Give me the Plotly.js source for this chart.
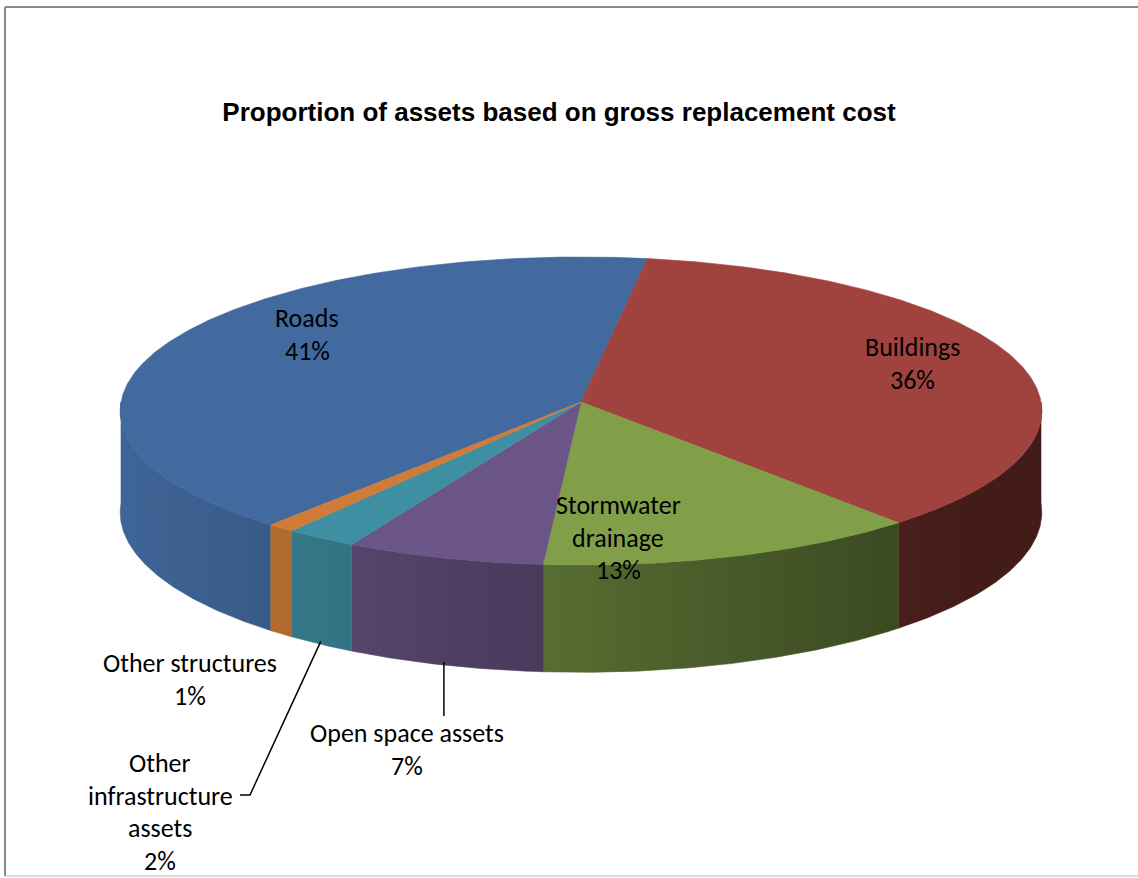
<!DOCTYPE html>
<html>
<head>
<meta charset="utf-8">
<script src="https://cdn.plot.ly/plotly-3.0.1.min.js"></script>
<style>html,body{margin:0;padding:0;background:#fff;}#chart{width:1138px;height:878px;}</style>
</head>
<body>
<div id="chart"></div>
<script>
// ---- data ----
const categories = ['Roads', 'Buildings', 'Stormwater drainage', 'Open space assets', 'Other infrastructure assets', 'Other structures'];
const labelLines = [['Roads'], ['Buildings'], ['Stormwater', 'drainage'], ['Open space assets'], ['Other', 'infrastructure', 'assets'], ['Other structures']];
const values = [41.3, 36.1, 12.7, 6.6, 2.4, 0.9];
const topColors = ['#426A9E', '#A0433F', '#809F48', '#6B5586', '#3F8FA3', '#D07C38'];
const titleText = 'Proportion of assets based on gross replacement cost';

// ---- layout geometry (pixels) ----
const W = 1138, H = 878;
const cx = 581, cy = 402, rx = 460, ry = 153.5, depth = 101, persp = 0.0584;
const startDeg = 220.1; // first slice start, clockwise from top
// label centre of first line, same order as categories
const labelPos = [[307, 318], [912, 347], [618, 505], [407, 733], [160, 763], [190, 663]];
const lineStep = 32.5;

function proj(deg, z) {
  const t = deg * Math.PI / 180;
  const d = Math.cos(t);
  const s = 1 / (1 + persp * d);
  return [cx + rx * Math.sin(t) * s, cy - ry * d * s + depth * s * z];
}
function hexToRgb(h) { return [1, 3, 5].map(i => parseInt(h.substr(i, 2), 16)); }
function shade(hex, f) { const c = hexToRgb(hex).map(v => Math.round(Math.max(0, Math.min(255, v * f)))); return 'rgb(' + c.join(',') + ')'; }
function light(deg) { const t = deg * Math.PI / 180; return Math.max(0.42, 0.66 - 0.3 * Math.sin(t)); }

const total = values.reduce((a, b) => a + b, 0);
const slices = [];
let acc = startDeg;
values.forEach((v, i) => { const span = v / total * 360; slices.push({ a: acc, b: acc + span, i }); acc += span; });

const sideTraces = [], topTraces = [];
slices.forEach(sl => {
  let a = sl.a % 360, b = a + (sl.b - sl.a);
  const ranges = [[a, b], [a - 360, b - 360], [a + 360, b + 360]];
  ranges.forEach(([ra, rb]) => {
    const s0 = Math.max(ra, 90), s1 = Math.min(rb, 270);
    if (s1 - s0 <= 0.01) return;
    const xs = [], ys = [];
    const n = Math.max(4, Math.ceil((s1 - s0) / 0.5));
    for (let k = 0; k <= n; k++) { const d = s0 + (s1 - s0) * k / n; const p = proj(d, 0); xs.push(p[0]); ys.push(p[1]); }
    for (let k = n; k >= 0; k--) { const d = s0 + (s1 - s0) * k / n; const p = proj(d, 1); xs.push(p[0]); ys.push(p[1]); }
    xs.push(xs[0]); ys.push(ys[0]);
    const xmin = Math.min(...xs), xmax = Math.max(...xs);
    const stops = [];
    const m = 8;
    for (let k = 0; k <= m; k++) {
      const d = s0 + (s1 - s0) * k / m;
      const x = proj(d, 0)[0];
      const t = xmax > xmin ? (x - xmin) / (xmax - xmin) : k / m;
      stops.push([t, shade(topColors[sl.i], light(d))]);
    }
    stops.sort((p, q) => p[0] - q[0]);
    stops[0][0] = 0; stops[stops.length - 1][0] = 1;
    const mid = shade(topColors[sl.i], light((s0 + s1) / 2));
    sideTraces.push({
      type: 'scatter', mode: 'lines', x: xs, y: ys, fill: 'toself',
      fillcolor: mid,
      fillgradient: { type: 'horizontal', colorscale: stops, start: xmin, stop: xmax },
      line: { width: 0.6, color: mid }, hoverinfo: 'skip', showlegend: false
    });
  });
  const xs = [cx], ys = [cy];
  const n = Math.max(4, Math.ceil((sl.b - sl.a) / 0.5));
  for (let k = 0; k <= n; k++) { const p = proj(sl.a + (sl.b - sl.a) * k / n, 0); xs.push(p[0]); ys.push(p[1]); }
  xs.push(cx); ys.push(cy);
  topTraces.push({
    type: 'scatter', mode: 'lines', x: xs, y: ys, fill: 'toself', fillcolor: topColors[sl.i],
    line: { width: 0.6, color: topColors[sl.i] }, hoverinfo: 'skip', showlegend: false, name: categories[sl.i]
  });
});

// labels
const labelFont = { family: 'Carlito, Lato, "Open Sans", sans-serif', size: 26, color: '#000' };
const annotations = [];
slices.forEach(sl => {
  const lines = labelLines[sl.i].concat([Math.round(values[sl.i] / total * 100) + '%']);
  const [lx, ly] = labelPos[sl.i];
  lines.forEach((t, k) => {
    annotations.push({ x: lx, y: ly + k * lineStep, xref: 'x', yref: 'y', text: t, showarrow: false, xanchor: 'center', yanchor: 'middle', font: labelFont });
  });
});

// leader lines from slice bottom-edge midpoints
function midBottom(i) { const sl = slices[i]; return proj((sl.a + sl.b) / 2, 1); }
const pOpen = midBottom(3), pInfra = midBottom(4);
const shapes = [
  { type: 'path', xref: 'x', yref: 'y', path: `M ${pOpen[0]} ${pOpen[1] - 3} L ${pOpen[0]} 716`, line: { color: '#000', width: 1.5 } },
  { type: 'path', xref: 'x', yref: 'y', path: `M ${pInfra[0]} ${pInfra[1] - 3} L 250 795 L 240 795`, line: { color: '#000', width: 1.5 } },
  { type: 'line', xref: 'x', yref: 'y', x0: 5, y0: 7, x1: 1145, y1: 7, line: { color: '#888', width: 2 } },
  { type: 'line', xref: 'x', yref: 'y', x0: 5, y0: 7, x1: 5, y1: 876, line: { color: '#888', width: 2 } },
  { type: 'line', xref: 'x', yref: 'y', x0: 5, y0: 876, x1: 1145, y1: 876, line: { color: '#ccc', width: 1.5 } }
];

const layout = {
  width: W, height: H, margin: { l: 0, r: 0, t: 0, b: 0 },
  paper_bgcolor: '#fff', plot_bgcolor: '#fff', showlegend: false,
  xaxis: { range: [0, W], visible: false, fixedrange: true },
  yaxis: { range: [H, 0], visible: false, fixedrange: true },
  title: { text: '<b>' + titleText + '</b>', x: 559 / W, xanchor: 'center', y: 1 - 112 / H, yanchor: 'middle', font: { family: '"Liberation Sans", Arial, sans-serif', size: 26, color: '#000' } },
  annotations, shapes
};
Plotly.newPlot('chart', sideTraces.concat(topTraces), layout, { displayModeBar: false, staticPlot: true });
</script>
</body>
</html>
